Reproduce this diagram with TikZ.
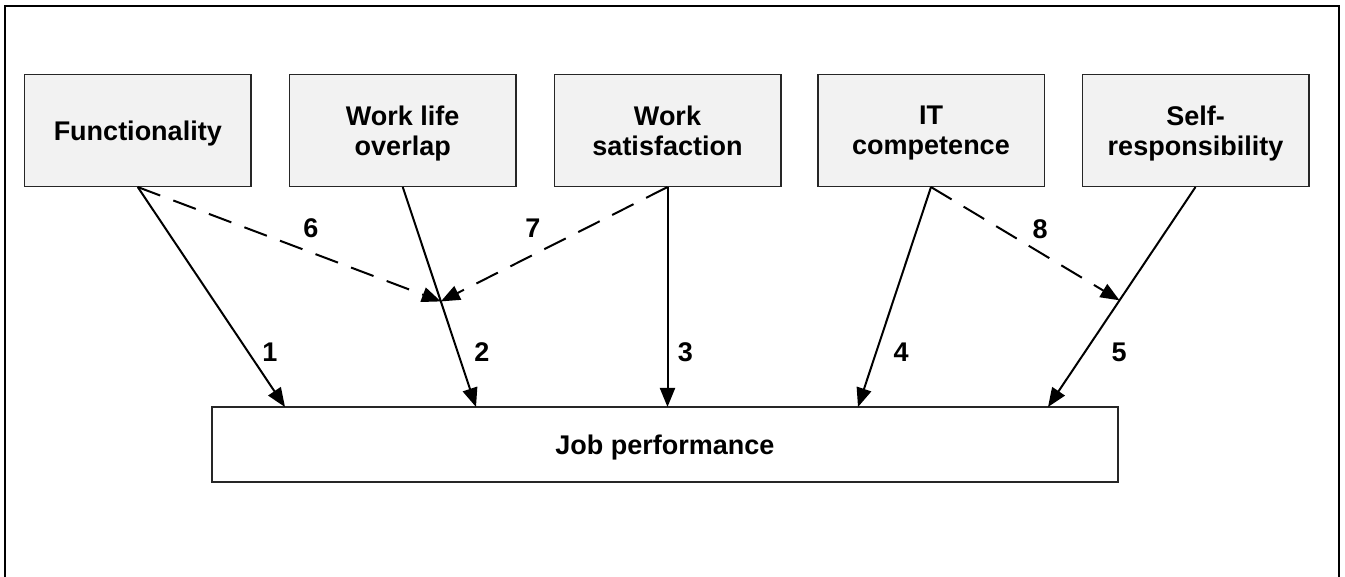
\documentclass[tikz,border=0pt]{standalone}
\usepackage{fontspec}
\setmainfont{Liberation Sans}
\usetikzlibrary{arrows.meta,calc}
\begin{document}
\begin{tikzpicture}[x=0.5pt,y=-0.5pt,
  boxfont/.style={font=\fontsize{13.5}{15}\selectfont\bfseries},
  topbox/.style={boxfont, draw=black!85, line width=0.75pt, fill=black!5,
    minimum width=113.25pt, minimum height=56pt, align=center, inner sep=0pt,
    text depth=0pt},
  jobbox/.style={boxfont, draw=black!85, line width=0.75pt, fill=white,
    minimum width=453pt, minimum height=37.5pt, inner sep=0pt, text depth=0pt},
  solidarrow/.style={line width=1pt, -{Triangle[length=9.5pt,width=7.5pt]}},
  dasharrow/.style={solidarrow, dash pattern=on 12pt off 7pt},
  num/.style={font=\fontsize{13.5}{16}\selectfont\bfseries, inner sep=0pt}]
\useasboundingbox (0,0) rectangle (1345,577);
\draw[line width=1.4pt] (5,577) -- (5,6) -- (1339,6) -- (1339,577);

\node[topbox] (f) at (137.75,130.3) {Functionality};
\node[topbox] (w) at (402.75,130.3) {Work life\\overlap};
\node[topbox] (s) at (667.5,130.3) {Work\\satisfaction};
\node[topbox] (it) at (931,130.3) {IT\\competence};
\node[topbox] (sr) at (1195.5,130.3) {Self-\\responsibility};
\node[jobbox] (job) at (665,444.5) {Job performance};

\coordinate (j1) at (285,407);
\coordinate (j2) at (476,407);
\coordinate (j3) at (667.5,407);
\coordinate (j4) at (858,407);
\coordinate (j5) at (1048,407);

\draw[solidarrow] (f.south) -- (j1);
\draw[solidarrow] (w.south) -- (j2);
\draw[solidarrow] (s.south) -- (j3);
\draw[solidarrow] (it.south) -- (j4);
\draw[solidarrow] (sr.south) -- (j5);

\coordinate (m2) at ($(w.south)!0.52!(j2)$);
\coordinate (m5) at ($(sr.south)!0.515!(j5)$);
\draw[dasharrow] (f.south) -- (m2);
\draw[dasharrow] (s.south) -- (m2);
\draw[dasharrow] (it.south) -- (m5);

\node[num] (n6) at (311,228) {6};
\node[num] (n7) at (533,228) {7};
\node[num] (n8) at (1040,229) {8};
\node[num] (n1) at (270,352) {1};
\node[num] (n2) at (482,352) {2};
\node[num] (n3) at (685.5,352) {3};
\node[num] (n4) at (901,352) {4};
\node[num] (n5) at (1119,352) {5};
\end{tikzpicture}
\end{document}
